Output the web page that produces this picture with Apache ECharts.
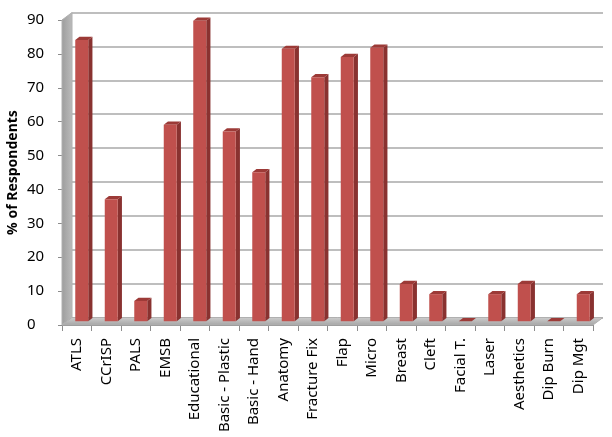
<!DOCTYPE html>
<html>
<head>
<meta charset="utf-8">
<script src="https://cdn.jsdelivr.net/npm/echarts@6/dist/echarts.min.js"></script>
<style>
  html, body { margin: 0; padding: 0; background: #fff; }
  #chart { width: 612px; height: 437px; }
</style>
</head>
<body>
<div id="chart"></div>
<script>
const categories = ['ATLS', 'CCrISP', 'PALS', 'EMSB', 'Educational', 'Basic - Plastic',
  'Basic - Hand', 'Anatomy', 'Fracture Fix', 'Flap', 'Micro', 'Breast', 'Cleft',
  'Facial T.', 'Laser', 'Aesthetics', 'Dip Burn', 'Dip Mgt']
const respondents = [83, 36, 6, 58, 88.7, 56, 44, 80.4, 72, 78, 80.7, 11, 8, 0, 8, 11, 0, 8]
const yMin = 0
const yMax = 90
const yStep = 10

// fake 3D depth of the plot box (back wall offset)
const DX = 10
const DY = -7.5

const font = '"Noto Sans", "Open Sans", sans-serif'

function renderWalls(params, api) {
  const cs = params.coordSys
  const x0 = cs.x
  const x1 = cs.x + cs.width
  const yTop = api.coord([0, yMax])[1]
  const yBot = api.coord([0, yMin])[1]
  return {
    type: 'group',
    children: [
      {
        type: 'polygon',
        shape: { points: [[x0, yTop], [x0 + DX, yTop + DY], [x0 + DX, yBot + DY], [x0, yBot]] },
        style: {
          fill: new echarts.graphic.LinearGradient(0, 0, 1, 0, [
            { offset: 0, color: '#9c9c9c' },
            { offset: 1, color: '#bcbcbc' }
          ]),
          stroke: '#b0b0b0',
          lineWidth: 1
        }
      },
      {
        type: 'polygon',
        shape: { points: [[x0, yBot], [x1, yBot], [x1 + DX, yBot + DY], [x0 + DX, yBot + DY]] },
        style: {
          fill: new echarts.graphic.LinearGradient(0, 0, 0, 1, [
            { offset: 0, color: '#cfcfcf' },
            { offset: 1, color: '#a4a4a4' }
          ]),
          stroke: '#b0b0b0',
          lineWidth: 1
        }
      }
    ]
  }
}

function renderBar(params, api) {
  const i = api.value(0)
  const v = api.value(1)
  const base = api.coord([i, 0])
  const top = api.coord([i, v])
  const bw = api.size([1, 0])[0] * 0.44
  const ox = DX / 2
  const oy = DY / 2
  const l = base[0] - bw / 2 + ox
  const r = base[0] + bw / 2 + ox
  const yt = top[1] + oy
  const yb = base[1] + oy
  const dx = DX * 0.42
  const dy = DY * 0.42
  return {
    type: 'group',
    children: [
      {
        type: 'polygon',
        shape: { points: [[r, yt], [r + dx, yt + dy], [r + dx, yb + dy], [r, yb]] },
        style: { fill: '#893230' }
      },
      {
        type: 'polygon',
        shape: { points: [[l, yt], [l + dx, yt + dy], [r + dx, yt + dy], [r, yt]] },
        style: { fill: '#9c3a37' }
      },
      {
        type: 'rect',
        shape: { x: l, y: yt, width: r - l, height: yb - yt },
        style: { fill: '#c0504d' }
      }
    ]
  }
}

const chart = echarts.init(document.getElementById('chart'))
chart.setOption({
  animation: false,
  grid: [
    { left: 62, right: 19, top: 20, bottom: 112, outerBoundsMode: 'none' },
    { left: 62 + DX, right: 19 - DX, top: 20 + DY, bottom: 112 - DY, outerBoundsMode: 'none' }
  ],
  xAxis: [
    {
      type: 'category',
      gridIndex: 0,
      data: categories,
      axisLine: { lineStyle: { color: '#8c8c8c', width: 1 } },
      axisTick: { show: true, length: 6, lineStyle: { color: '#8c8c8c' } },
      axisLabel: {
        interval: 0,
        rotate: 90,
        margin: 13,
        fontFamily: font,
        fontSize: 15,
        color: '#000'
      }
    },
    {
      type: 'category',
      gridIndex: 1,
      data: categories,
      show: false
    }
  ],
  yAxis: [
    {
      type: 'value',
      gridIndex: 0,
      min: yMin,
      max: yMax,
      interval: yStep,
      name: '% of Respondents',
      nameLocation: 'middle',
      nameGap: 42,
      nameMoveOverlap: false,
      nameTextStyle: { fontFamily: font, fontSize: 14, fontWeight: 'bold', color: '#000' },
      axisLine: { show: true, lineStyle: { color: '#8c8c8c' } },
      axisTick: { show: true, length: 4, lineStyle: { color: '#8c8c8c' } },
      splitLine: { show: false },
      axisLabel: {
        margin: 35,
        align: 'left',
        fontFamily: font,
        fontSize: 15,
        color: '#000'
      }
    },
    {
      type: 'value',
      gridIndex: 1,
      min: yMin,
      max: yMax,
      interval: yStep,
      axisLine: { show: false },
      axisTick: { show: false },
      axisLabel: { show: false },
      splitLine: { show: true, lineStyle: { color: '#a8a8a8', width: 1.5 } }
    }
  ],
  series: [
    {
      type: 'custom',
      xAxisIndex: 0,
      yAxisIndex: 0,
      data: [[0, 0]],
      renderItem: renderWalls,
      silent: true,
      z: 1
    },
    {
      type: 'custom',
      xAxisIndex: 0,
      yAxisIndex: 0,
      data: respondents.map((v, i) => [i, v]),
      renderItem: renderBar,
      z: 3
    }
  ]
})
</script>
</body>
</html>
